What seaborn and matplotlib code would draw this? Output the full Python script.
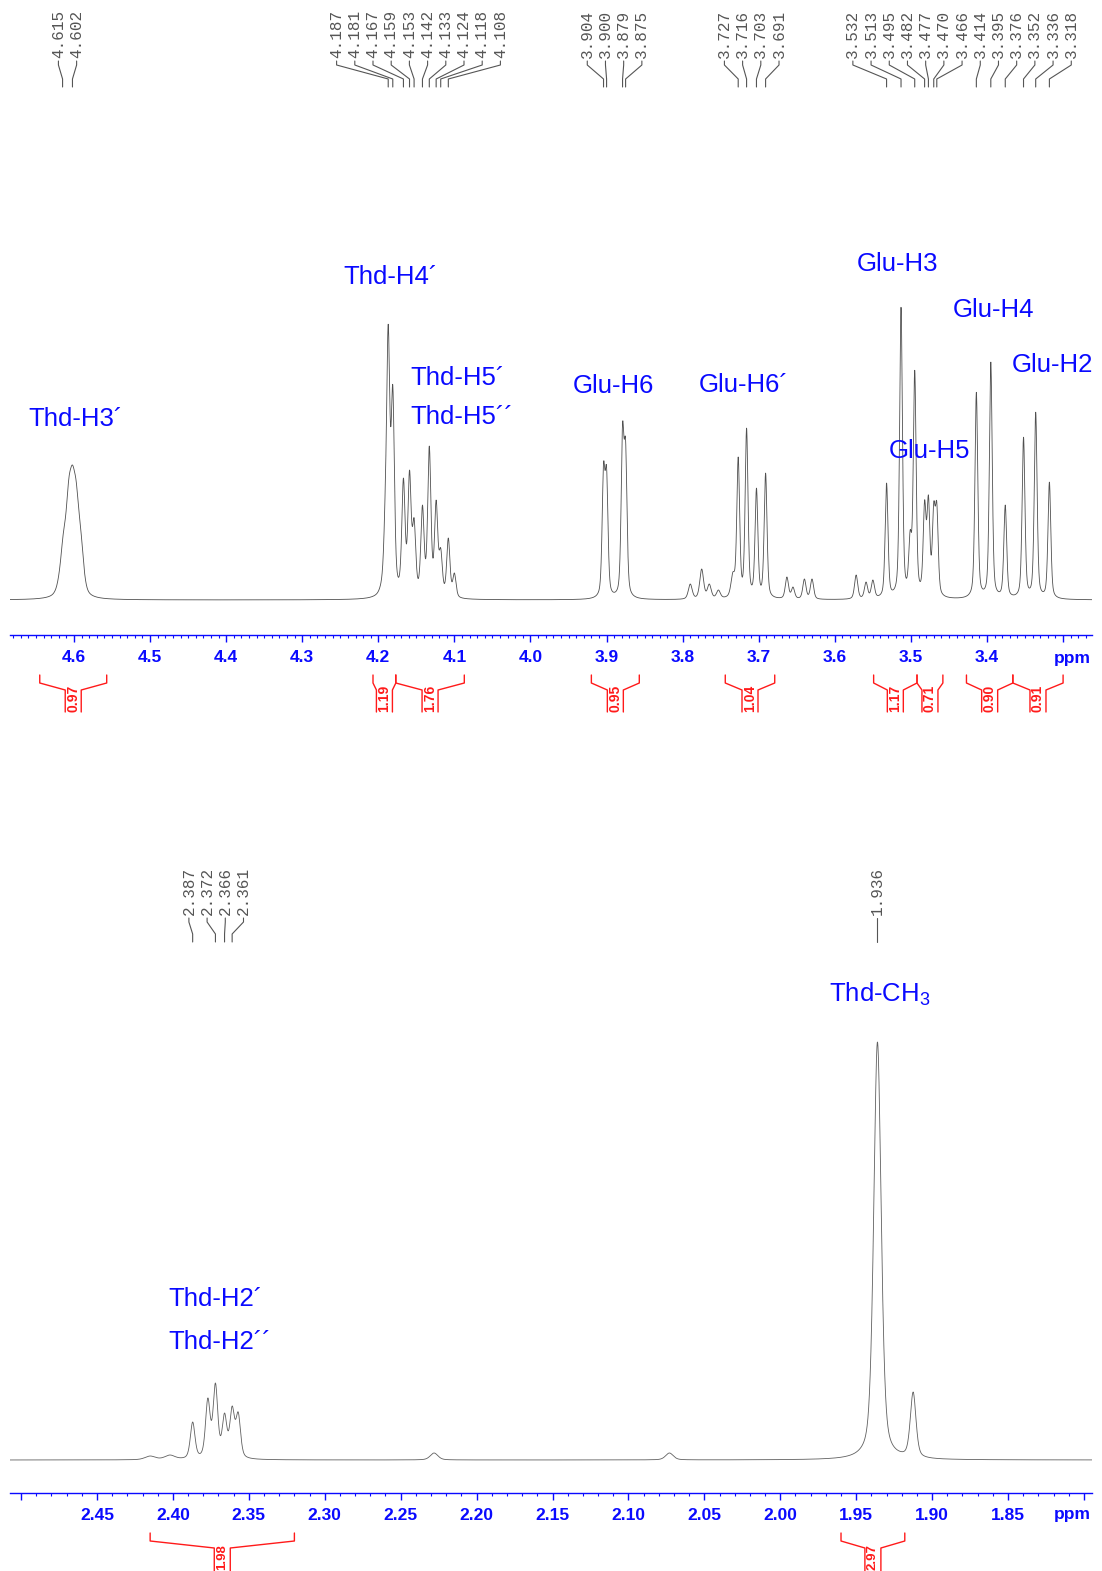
import numpy as np
import pandas as pd
import seaborn as sns
import matplotlib.pyplot as plt
from matplotlib.ticker import MultipleLocator

W, H = 1102, 1571
BLUE = '#0a0aff'
RED = '#ff1a1a'
GREY = '#555555'

# ---- upper spectrum (4.68 - 3.26 ppm): peak position, height above baseline, half width
top_peak_ppm = [4.620, 4.614, 4.607, 4.602, 4.597, 4.591, 4.586,
                4.196, 4.191, 4.187, 4.181, 4.167, 4.159, 4.153, 4.142, 4.133, 4.124, 4.118, 4.108, 4.100,
                3.904, 3.900, 3.879, 3.875,
                3.790, 3.775, 3.765, 3.753, 3.734,
                3.727, 3.716, 3.703, 3.691,
                3.663, 3.655, 3.640, 3.630, 3.572, 3.559, 3.550,
                3.532, 3.513, 3.501, 3.495, 3.482, 3.477, 3.470, 3.466,
                3.414, 3.395, 3.376, 3.352, 3.336, 3.318]
top_peak_height = [25, 67, 120, 135, 118, 70, 22,
                   20, 110, 276, 215, 122, 130, 82, 95, 154, 100, 52, 62, 27,
                   137, 133, 177, 160,
                   16, 31, 16, 10, 28,
                   143, 172, 112, 127,
                   23, 13, 21, 21, 25, 18, 20,
                   117, 293, 70, 230, 100, 105, 98, 98,
                   208, 238, 95, 163, 188, 118]
top_peak_hwhm = [0.0045] * 7 + [0.003] + [0.0025] * 12 + [0.0022] * 4 + [0.003] * 5 \
    + [0.0022] * 4 + [0.0025] * 7 + [0.0022] * 8 + [0.0022] * 6

# ---- lower spectrum (2.51 - 1.79 ppm)
bot_peak_ppm = [2.415, 2.402, 2.387, 2.377, 2.372, 2.366, 2.361, 2.357, 2.228, 2.073, 1.936, 1.9125]
bot_peak_height = [4, 5, 38, 62, 77, 47, 54, 48, 7, 7, 418, 68]
bot_peak_hwhm = [0.004, 0.004, 0.0018, 0.0018, 0.0018, 0.0018, 0.0018, 0.0018, 0.003, 0.003, 0.0029, 0.0022]

# peak picking labels
top_label_groups = [[4.615, 4.602],
                    [4.187, 4.181, 4.167, 4.159, 4.153, 4.142, 4.133, 4.124, 4.118, 4.108],
                    [3.904, 3.900, 3.879, 3.875],
                    [3.727, 3.716, 3.703, 3.691],
                    [3.532, 3.513, 3.495, 3.482, 3.477, 3.470, 3.466, 3.414, 3.395, 3.376, 3.352, 3.336, 3.318]]
bot_label_groups = [[2.387, 2.372, 2.366, 2.361], [1.936]]

# integrals: start, end, value
top_int_start = [4.645, 4.207, 4.177, 3.920, 3.744, 3.549, 3.492, 3.427, 3.366]
top_int_end = [4.557, 4.177, 4.087, 3.857, 3.679, 3.492, 3.458, 3.366, 3.300]
top_int_value = ['0.97', '1.19', '1.76', '0.95', '1.04', '1.17', '0.71', '0.90', '0.91']
bot_int_start = [2.415, 1.960]
bot_int_end = [2.320, 1.918]
bot_int_value = ['1.98', '2.97']

# assignments: text, ppm (left edge), intensity (baseline of text)
top_names = ['Thd-H3´', 'Thd-H4´', 'Thd-H5´', 'Thd-H5´´', 'Glu-H6', 'Glu-H6´', 'Glu-H3', 'Glu-H4', 'Glu-H2', 'Glu-H5']
top_names_ppm = [4.6604, 4.2464, 4.1584, 4.1584, 3.9441, 3.7785, 3.5708, 3.4447, 3.3671, 3.5288]
top_names_y = [174, 316, 215, 176, 207, 208, 329, 283, 228, 142]
bot_names = [r'Thd-CH$_\mathregular{3}$', 'Thd-H2´', 'Thd-H2´´']
bot_names_ppm = [1.9679, 2.4032, 2.4032]
bot_names_y = [458, 154, 111]

top_ticks = [4.6, 4.5, 4.4, 4.3, 4.2, 4.1, 4.0, 3.9, 3.8, 3.7, 3.6, 3.5, 3.4, 3.3]
top_tick_labels = ['4.6', '4.5', '4.4', '4.3', '4.2', '4.1', '4.0', '3.9', '3.8', '3.7', '3.6', '3.5', '3.4', '']
bot_ticks = [2.50, 2.45, 2.40, 2.35, 2.30, 2.25, 2.20, 2.15, 2.10, 2.05, 2.00, 1.95, 1.90, 1.85, 1.80]
bot_tick_labels = ['', '2.45', '2.40', '2.35', '2.30', '2.25', '2.20', '2.15', '2.10', '2.05', '2.00',
                   '1.95', '1.90', '1.85', '']


def lineshape(x, c, hw, eta=0.45):
    d = (x - c) / hw
    return eta / (1 + d ** 2) + (1 - eta) * np.exp(-np.log(2) * d ** 2)


def trace(x, ppm, height, hwhm):
    ppm, height, hwhm = (np.asarray(a, float) for a in (ppm, height, hwhm))
    m = lineshape(ppm[:, None], ppm[None, :], hwhm[None, :])
    # scale the components so the summed trace reaches the read heights
    amp = height.copy()
    for _ in range(300):
        amp *= height / (m @ amp)
    return lineshape(x[:, None], ppm[None, :], hwhm[None, :]) @ amp


sns.set_theme(style="white")
plt.rcParams['font.family'] = ['Liberation Sans', 'DejaVu Sans']
plt.rcParams['mathtext.fontset'] = 'custom'
plt.rcParams['mathtext.rm'] = 'Liberation Sans'

fig = plt.figure(figsize=(W / 100, H / 100), dpi=100)
fig.patch.set_facecolor('white')


def px_axes(left, top, right, bottom):
    return fig.add_axes([left / W, 1 - bottom / H, (right - left) / W, (bottom - top) / H])


ax_top = px_axes(10, 90, 1092, 635)
ax_bot = px_axes(10, 950, 1092, 1493)

x_top = np.linspace(4.6841, 3.262, 7200)
x_bot = np.linspace(2.5073, 1.7947, 7200)
df_top = pd.DataFrame({'ppm': x_top, 'intensity': trace(x_top, top_peak_ppm, top_peak_height, top_peak_hwhm)})
df_bot = pd.DataFrame({'ppm': x_bot, 'intensity': trace(x_bot, bot_peak_ppm, bot_peak_height, bot_peak_hwhm)})

sns.lineplot(data=df_top, x='ppm', y='intensity', ax=ax_top, color='#505050', linewidth=0.6,
             estimator=None, sort=False)
sns.lineplot(data=df_bot, x='ppm', y='intensity', ax=ax_bot, color='#606060', linewidth=0.6,
             estimator=None, sort=False)

for ax, xlim, ylim, ticks, labels in [(ax_top, (4.6841, 3.262), (-35, 510), top_ticks, top_tick_labels),
                                      (ax_bot, (2.5073, 1.7947), (-33, 510), bot_ticks, bot_tick_labels)]:
    ax.set_xlim(*xlim)
    ax.set_ylim(*ylim)
    ax.set_xticks(ticks, labels, fontweight='bold', fontsize=12.5, color=BLUE)
    ax.xaxis.set_minor_locator(MultipleLocator(0.01))
    ax.set_yticks([])
    ax.set_xlabel('')
    ax.set_ylabel('')
    for s in ['top', 'left', 'right']:
        ax.spines[s].set_visible(False)
    ax.spines['bottom'].set_color(BLUE)
    ax.spines['bottom'].set_linewidth(1.0)
    ax.tick_params(axis='x', which='major', direction='out', length=5, width=1.0, color=BLUE,
                   pad=6, bottom=True)
    ax.tick_params(axis='x', which='minor', direction='out', length=2.2, width=0.8, color=BLUE,
                   bottom=True)
    ax.patch.set_alpha(0)

for name, p, y in zip(top_names, top_names_ppm, top_names_y):
    ax_top.text(p, y, name, color=BLUE, fontsize=18.5, ha='left', va='baseline')
for name, p, y in zip(bot_names, bot_names_ppm, bot_names_y):
    ax_bot.text(p, y, name, color=BLUE, fontsize=18.5, ha='left', va='baseline')

# overlay in figure pixels for labels and integrals
ov = fig.add_axes([0, 0, 1, 1])
ov.set_xlim(0, W)
ov.set_ylim(H, 0)
ov.axis('off')
ov.patch.set_alpha(0)


def to_px(ax, ppm):
    return ov.transData.inverted().transform(ax.transData.transform((ppm, 0)))[0]


def peak_labels(ax, groups, y_text, y_end):
    for grp in groups:
        xs = [to_px(ax, p) for p in grp]
        centre = np.mean(xs)
        for i, (p, xp) in enumerate(zip(grp, xs)):
            xl = centre + (i - (len(grp) - 1) / 2) * 18.2
            ov.text(xl, y_text, f'{p:.3f}', rotation=90, ha='center', va='bottom',
                    family='Liberation Mono', fontsize=11.5, color=GREY)
            ov.plot([xl, xl, xp, xp], [y_text + 3, y_text + 7, y_end - 8, y_end],
                    color=GREY, lw=0.8)


def integrals(ax, starts, ends, values, y0, y_text, y_stop, size):
    for a, b, v in zip(starts, ends, values):
        xl, xr = to_px(ax, a), to_px(ax, b)
        xc = (xl + xr) / 2
        ov.plot([xl, xl, xc - 8, xc - 8], [y0, y0 + 8, y0 + 15, y_stop], color=RED, lw=1.0)
        ov.plot([xr, xr, xc + 8, xc + 8], [y0, y0 + 8, y0 + 15, y_stop], color=RED, lw=1.0)
        ov.text(xc, y_text, v, rotation=90, ha='center', va='center', fontsize=size,
                fontweight='bold', color=RED)


peak_labels(ax_top, top_label_groups, 58, 87)
peak_labels(ax_bot, bot_label_groups, 915, 942)
integrals(ax_top, top_int_start, top_int_end, top_int_value, 675, 698, 712, 10)
integrals(ax_bot, bot_int_start, bot_int_end, bot_int_value, 1533, 1557, 1575, 9.5)

ov.text(1091, 658, 'ppm', color=BLUE, fontsize=12.5, fontweight='bold', ha='right', va='center')
ov.text(1091, 1514, 'ppm', color=BLUE, fontsize=12.5, fontweight='bold', ha='right', va='center')

fig.savefig('out.png', dpi=100, facecolor='white')
